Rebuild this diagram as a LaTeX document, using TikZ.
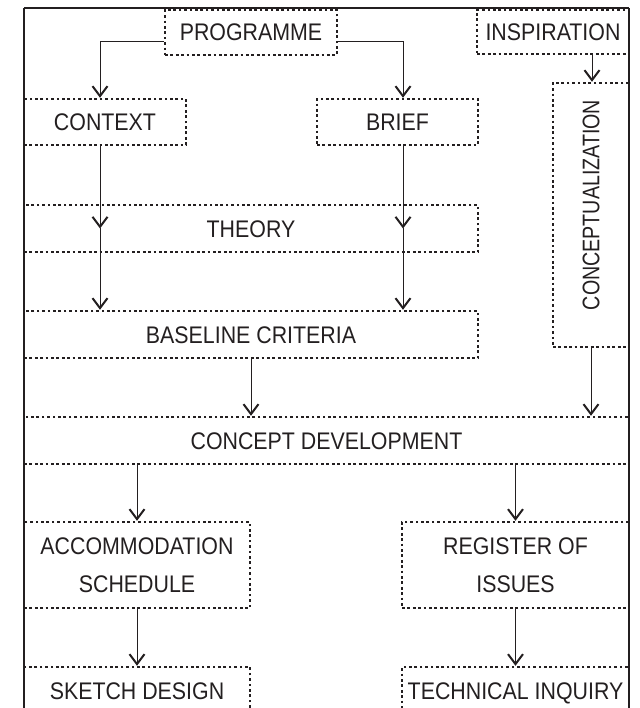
\documentclass[tikz,border=0pt]{standalone}
\usepackage{fontspec}
\setmainfont[FakeStretch=0.89]{Liberation Sans}
\usetikzlibrary{arrows.meta, positioning, calc}
\definecolor{ink}{RGB}{35,31,32}

\begin{document}
\begin{tikzpicture}[
		x=1pt, y=-1pt,
		elem/.style={draw=ink, text=ink, rectangle, line width=2.4pt, dash pattern=on 2.7pt off 2.7pt, align=center, inner sep=0pt, font=\fontsize{24}{38}\selectfont},
		single/.style={elem, text height=17pt, text depth=0pt},
		flow/.style={draw=ink, line width=1pt, -{Straight Barb[length=10pt,width=15pt,line width=2pt]}}
	]
		\useasboundingbox (0,0) rectangle (639,708);

		\node (prog) [single, minimum width=172pt, minimum height=45pt] at (251,32.5) {PROGRAMME};
		\node (insp) [single, minimum width=152pt, minimum height=44pt] at (553,32) {INSPIRATION};
		\node (ctx) [single, minimum width=162pt, minimum height=46pt] at (105,122) {CONTEXT};
		\node (brief) [single, minimum width=161pt, minimum height=46pt] at (397.5,122) {BRIEF};
		\node (concept) [elem, minimum width=76pt, minimum height=264pt] at (591,215) {\rotatebox{90}{\hspace*{20pt}\scalebox{0.92}[1]{CONCEPTUALIZATION}}};
		\node (theory) [single, minimum width=454pt, minimum height=47pt] at (251,228.5) {THEORY};
		\node (base) [single, minimum width=454pt, minimum height=47pt] at (251,334.5) {BASELINE CRITERIA};
		\node (dev) [single, minimum width=605pt, minimum height=47pt] at (326.5,440.5) {CONCEPT DEVELOPMENT};
		\node (accom) [elem, minimum width=226pt, minimum height=86pt] at (137,565) {ACCOMMODATION\\SCHEDULE};
		\node (reg) [elem, minimum width=227pt, minimum height=86pt] at (515.5,565) {REGISTER OF\\ISSUES};
		\node (sketch) [single, minimum width=226pt, minimum height=47pt] at (137,690.5) {SKETCH DESIGN};
		\node (tech) [single, minimum width=227pt, minimum height=47pt] at (515.5,690.5) {TECHNICAL INQUIRY};

		% arrow columns
		\coordinate (ctxx) at (100,0);
		\coordinate (brfx) at (403,0);
		\coordinate (cnpx) at (592,0);

		\draw [flow] ([yshift=-9pt]prog.west) -| (ctxx |- ctx.north);
		\draw [flow] ([yshift=-9pt]prog.east) -| (brfx |- brief.north);
		\draw [flow] (cnpx |- insp.south) -- (cnpx |- concept.north);
		\draw [flow] (ctx.south -| ctxx) -- (ctxx |- theory.center);
		\draw [flow] (ctxx |- theory.center) -- (ctxx |- base.north);
		\draw [flow] (brief.south -| brfx) -- (brfx |- theory.center);
		\draw [flow] (brfx |- theory.center) -- (brfx |- base.north);
		\draw [flow] (base.south) -- (base.south |- dev.north);
		\draw [flow] (concept.south) -- (concept.south |- dev.north);
		\draw [flow] (accom.north |- dev.south) -- (accom.north);
		\draw [flow] (reg.north |- dev.south) -- (reg.north);
		\draw [flow] (accom) -- (sketch);
		\draw [flow] (reg) -- (tech);

		% frame
		\draw [ink, line width=2.4pt] (24,708) -- (24,8);
		\draw [ink, line width=2.4pt] (629,708) -- (629,8);
		\draw [ink, line width=1.5pt] (24,8) -- (629,8);
	\end{tikzpicture}
\end{document}
